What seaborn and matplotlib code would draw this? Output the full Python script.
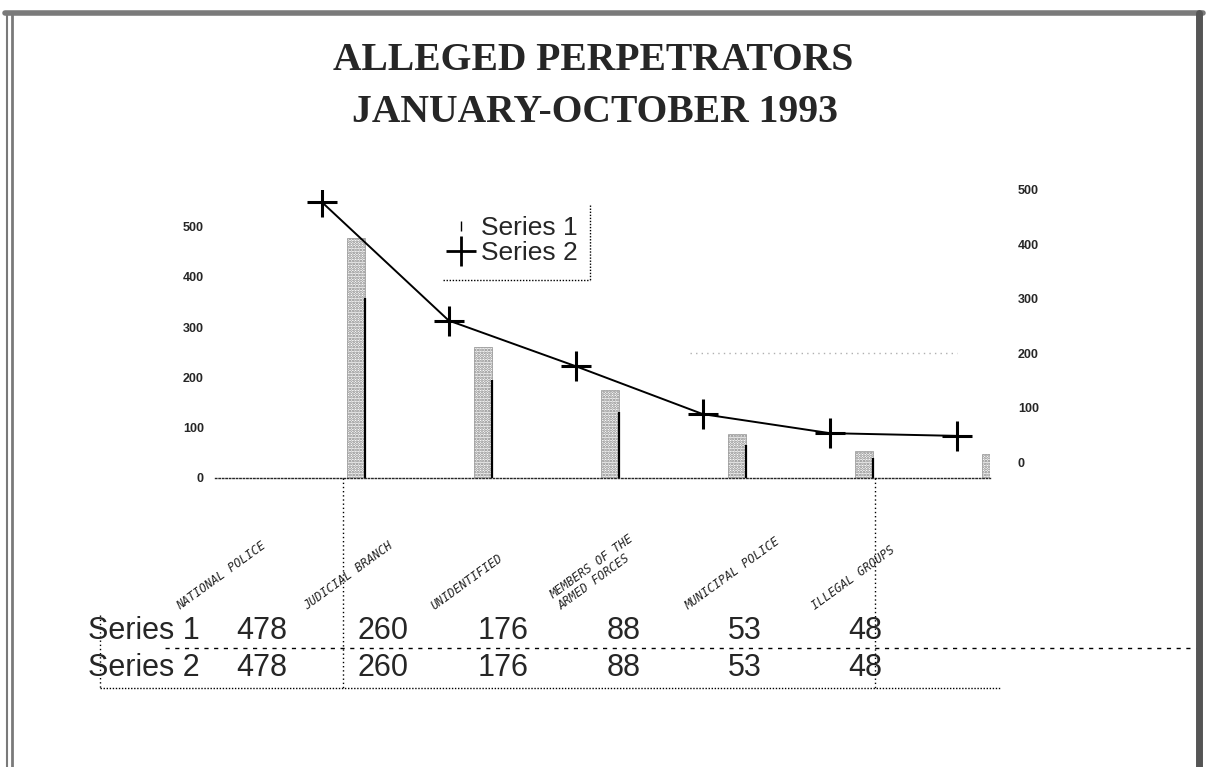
import matplotlib
matplotlib.use('Agg')

import numpy as np
import pandas as pd
import matplotlib.pyplot as plt
import matplotlib.transforms as mtrans
import seaborn as sns
from matplotlib.lines import Line2D

# data
categories = ['NATIONAL POLICE', 'JUDICIAL BRANCH', 'UNIDENTIFIED',
              'MEMBERS OF THE\nARMED FORCES', 'MUNICIPAL POLICE', 'ILLEGAL GROUPS']
series1 = [478, 260, 176, 88, 53, 48]
series2 = [478, 260, 176, 88, 53, 48]
left_ticks = [0, 100, 200, 300, 400, 500]
right_ticks = [0, 100, 200, 300, 400, 500]
row_names = ['Series 1', 'Series 2']

sns.set_style('white')
plt.rcParams['font.family'] = ['Liberation Sans', 'DejaVu Sans']
plt.rcParams['hatch.linewidth'] = 1.3

W, H = 1209, 767
fig = plt.figure(figsize=(W / 100, H / 100), dpi=100)

def fx(px):
    return px / W

def fy(py):
    return 1 - py / H

ax = fig.add_axes([fx(215), fy(478), fx(990) - fx(215), fy(190) - fy(478)])
ax2 = ax.twinx()

pos = np.arange(len(categories))
df = pd.DataFrame({'pos': pos, 'bar_pos': pos + 0.27,
                   'series1': series1, 'series2': series2})

# Series 1: thin stippled bars (left scale)
sns.barplot(data=df, x='bar_pos', y='series1', native_scale=True, width=0.14,
            color='white', edgecolor='#7d7d7d', hatch='......', linewidth=0.4,
            ax=ax)
ax.vlines(df['bar_pos'] + 0.07, 0, df['series1'] * 0.75, color='black', lw=1.6)

# Series 2: line with + markers (right scale)
sns.lineplot(data=df, x='pos', y='series2', ax=ax2, color='black',
             marker='+', markersize=22, markeredgewidth=2.2,
             markeredgecolor='black', linewidth=1.4)

ax.set_xlim(-0.84, 5.26)
ax.set_ylim(0, 573)
ax2.set_ylim(-29.4, 500)

ax.set_yticks(left_ticks)
ax2.set_yticks(right_ticks)
ax.set_xticks([])
ax.tick_params(axis='y', length=0, labelsize=9, pad=8)
ax2.tick_params(axis='y', length=0, labelsize=9, pad=20)
for lab in ax.get_yticklabels() + ax2.get_yticklabels():
    lab.set_fontweight('bold')
ax.set_xlabel('')
ax.set_ylabel('')
ax2.set_ylabel('')

for a in (ax, ax2):
    for s in ('top', 'left', 'right', 'bottom'):
        a.spines[s].set_visible(False)
ax.spines['bottom'].set_visible(True)
ax.spines['bottom'].set_linestyle((0, (1, 1.5)))
ax.spines['bottom'].set_linewidth(1)

# faint dotted level lines like the scan
ax2.hlines(200, 2.9, 5.0, color='#b0b0b0', lw=1, linestyles=(0, (1, 3)))

# category labels, slanted
trans = mtrans.blended_transform_factory(ax.transData, fig.transFigure)
for i, name in enumerate(categories):
    ax.text(i - 1.1, fy(612), name, transform=trans, rotation=36,
            rotation_mode='anchor', ha='left', va='bottom', fontsize=8.5,
            family='DejaVu Sans Mono', style='italic', linespacing=1.0)

# data table under the chart
row_y = [631, 668]
for name, vals, y in zip(row_names, [series1, series2], row_y):
    fig.text(fx(88), fy(y), name, ha='left', va='center', fontsize=22)
    for i, v in enumerate(vals):
        ax.text(i * 0.95 - 0.47, fy(y), str(v), transform=trans,
                ha='center', va='center', fontsize=22)

lines = [
    ([165, 1200], [648, 648], (0, (3, 4)), 1.0),
    ([100, 1000], [688, 688], (0, (1, 1.2)), 1.0),
    ([343, 343], [478, 688], (0, (1, 2)), 1.0),
    ([875, 875], [478, 688], (0, (1, 2)), 1.0),
    ([100, 100], [615, 688], (0, (1, 2)), 1.0),
    ([443, 590], [280, 280], (0, (1, 1.2)), 1.0),
    ([590, 590], [205, 280], (0, (1, 1.2)), 1.0),
]
for xs, ys, ls, lw in lines:
    fig.add_artist(Line2D([fx(x) for x in xs], [fy(y) for y in ys],
                          color='black', lw=lw, linestyle=ls))

# legend
handles = [Line2D([], [], color='black', marker='|', linestyle='none',
                  markersize=7, markeredgewidth=1),
           Line2D([], [], color='black', marker='+', linestyle='none',
                  markersize=22, markeredgewidth=2)]
fig.legend(handles=handles, labels=['Series 1', 'Series 2'], loc='upper left',
           bbox_to_anchor=(fx(428), fy(200)), frameon=False, fontsize=19,
           handlelength=1.3, handletextpad=0.1, borderpad=0.1, labelspacing=0.05)

# title
fig.text(fx(593), fy(60), 'ALLEGED PERPETRATORS', ha='center', va='center',
         family='Liberation Serif', weight='bold', fontsize=28.5)
fig.text(fx(595), fy(113), 'JANUARY-OCTOBER 1993', ha='center', va='center',
         family='Liberation Serif', weight='bold', fontsize=28.5)

# page border from the scan
fig.add_artist(Line2D([fx(5), fx(1203)], [fy(13), fy(13)], color='#7a7a7a', lw=4))
fig.add_artist(Line2D([fx(7), fx(7)], [fy(13), fy(767)], color='#7a7a7a', lw=1.5))
fig.add_artist(Line2D([fx(12), fx(12)], [fy(13), fy(767)], color='#7a7a7a', lw=2))
fig.add_artist(Line2D([fx(1199), fx(1199)], [fy(13), fy(767)], color='#555555', lw=5))

fig.savefig('out.png', dpi=100)
print('saved out.png')
